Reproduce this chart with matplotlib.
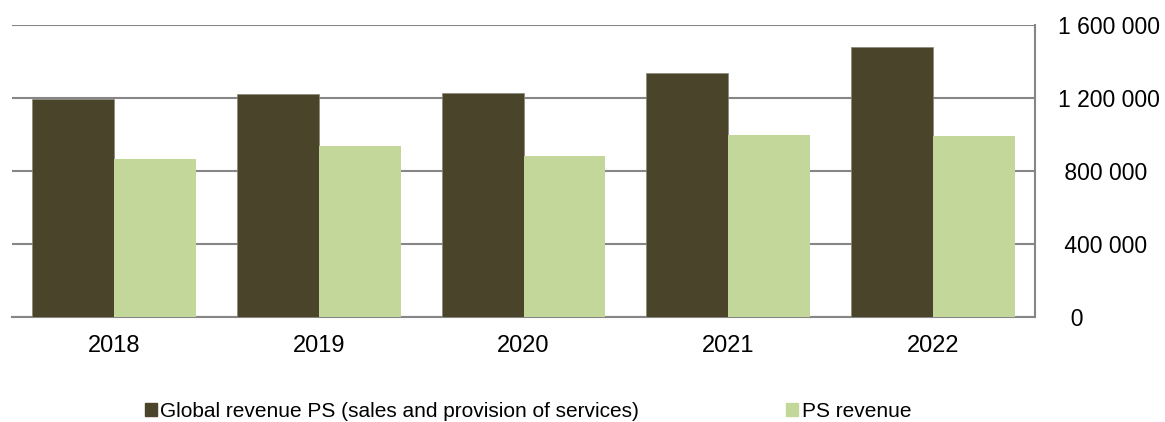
import matplotlib.pyplot as plt
import numpy as np
from matplotlib.patches import Patch

plt.rcParams['font.family'] = ['Liberation Sans', 'DejaVu Sans']

years = ['2018', '2019', '2020', '2021', '2022']
global_revenue = [1196000, 1222000, 1225000, 1339000, 1479000]
ps_revenue = [866000, 938000, 884000, 997000, 990000]

y_ticks = [0, 400000, 800000, 1200000, 1600000]
y_tick_labels = ['  0', ' 400 000', ' 800 000', '1 200 000', '1 600 000']

DARK = '#4a452a'
LIGHT = '#c4d79b'
GRID = '#868686'

fig = plt.figure(figsize=(11.65, 4.22), dpi=100)
ax = fig.add_axes([12 / 1165, 105 / 422, (1035 - 12) / 1165, 292 / 422])

x = np.arange(len(years))
w = 0.4
ax.bar(x - w / 2, global_revenue, w, color=DARK, edgecolor='#8a8778', linewidth=0.5, zorder=3)
ax.bar(x + w / 2, ps_revenue, w, color=LIGHT, zorder=3)

ax.set_xlim(-0.5, len(years) - 0.5)
ax.set_ylim(0, 1600000)
ax.set_xticks(x)
ax.set_xticklabels(years, fontsize=17)
ax.tick_params(axis='x', length=0, pad=13)

ax.yaxis.tick_right()
ax.set_yticks(y_ticks)
ax.set_yticklabels(y_tick_labels, fontsize=16.5, ha='left')
ax.tick_params(axis='y', length=0, pad=16.5)

ax.grid(axis='y', color=GRID, linewidth=1.5, zorder=0)
for side in ('left', 'top'):
    ax.spines[side].set_visible(False)
for side in ('right', 'bottom'):
    ax.spines[side].set_color(GRID)
    ax.spines[side].set_linewidth(1.5)

handles = [Patch(color=DARK), Patch(color=LIGHT)]
labels = ['Global revenue PS (sales and provision of services)', 'PS revenue']
fig.legend(handles, labels, loc='center', bbox_to_anchor=(0.4532, 0.026), ncol=2,
           frameon=False, fontsize=15, handlelength=0.58, handleheight=0.58,
           handletextpad=0.15, columnspacing=7.07)

fig.savefig('out.png', dpi=100)
